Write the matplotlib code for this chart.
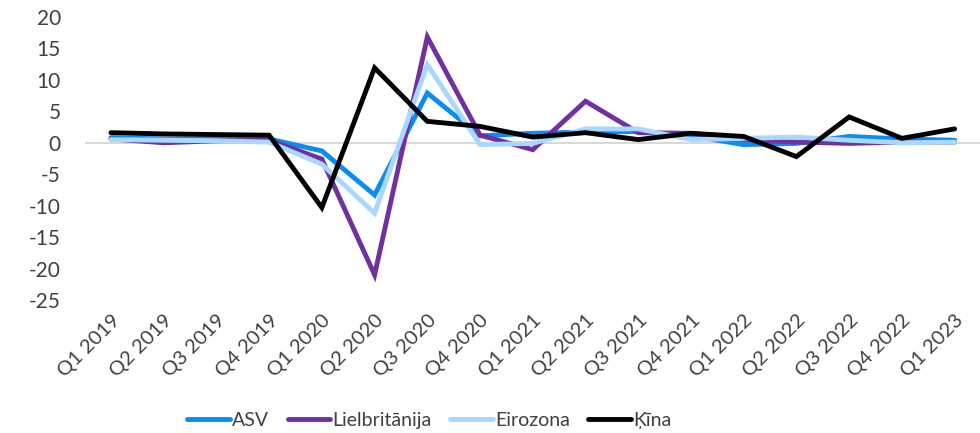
import matplotlib
matplotlib.use("Agg")
import matplotlib.pyplot as plt
import numpy as np

categories = ["Q1 2019", "Q2 2019", "Q3 2019", "Q4 2019", "Q1 2020", "Q2 2020",
              "Q3 2020", "Q4 2020", "Q1 2021", "Q2 2021", "Q3 2021", "Q4 2021",
              "Q1 2022", "Q2 2022", "Q3 2022", "Q4 2022", "Q1 2023"]
asv = [0.8, 0.6, 0.6, 0.6, -1.3, -8.3, 7.9, 1.1, 1.5, 1.7, 1.8, 1.1,
       -0.3, -0.1, 1.0, 0.6, 0.4]
uk = [0.6, 0.0, 0.3, 0.4, -2.6, -21.0, 16.8, 1.2, -1.1, 6.6, 1.6, 1.5,
      0.5, 0.1, -0.1, 0.1, 0.1]
eurozone = [0.5, 0.4, 0.3, 0.1, -3.4, -11.2, 12.4, -0.3, -0.1, 2.2, 2.2, 0.5,
            0.7, 0.9, 0.4, 0.0, 0.1]
china = [1.6, 1.4, 1.3, 1.2, -10.3, 11.9, 3.4, 2.6, 0.9, 1.6, 0.5, 1.5,
         1.0, -2.2, 4.1, 0.7, 2.2]
yticks = [20, 15, 10, 5, 0, -5, -10, -15, -20, -25]

plt.rcParams['font.family'] = ['Lato', 'DejaVu Sans']

fig = plt.figure(figsize=(9.8, 4.33), dpi=100)
ax = fig.add_axes([0.0863, 0.307, 0.9147, 0.654])

x = np.arange(len(categories))
ax.axhline(0, color='#d9d9d9', lw=1.5, zorder=1)
kw = dict(lw=3.5, solid_capstyle='round', solid_joinstyle='miter')
ax.plot(x, asv, color='#0A8CF5', label='ASV', zorder=2, **kw)
ax.plot(x, uk, color='#7030A0', label='Lielbritānija', zorder=3, **kw)
ax.plot(x, eurozone, color='#A9D8FF', label='Eirozona', zorder=4, **kw)
ax.plot(x, china, color='#000000', label='Ķīna', zorder=5, **kw)

ax.set_xlim(-0.5, len(categories) - 0.5)
ax.set_ylim(-25, 20)
ax.set_yticks(yticks)
ax.set_yticklabels([str(v) for v in yticks], fontsize=15, color='#404040')
ax.set_xticks(x)
ax.set_xticklabels(categories, rotation=45, ha='right', rotation_mode='anchor',
                   fontsize=14.5, color='#404040')
ax.tick_params(axis='both', length=0)
ax.tick_params(axis='y', pad=17)
ax.tick_params(axis='x', pad=8)
for s in ax.spines.values():
    s.set_visible(False)

handles, labels = ax.get_legend_handles_labels()
fig.legend(handles, labels, loc='center', bbox_to_anchor=(0.438, 0.030), ncol=4,
           frameon=False, fontsize=14, handlelength=2.2, handletextpad=0.1,
           columnspacing=0.95, labelcolor='#404040', borderaxespad=0, borderpad=0)

fig.savefig('out.png', dpi=100)
